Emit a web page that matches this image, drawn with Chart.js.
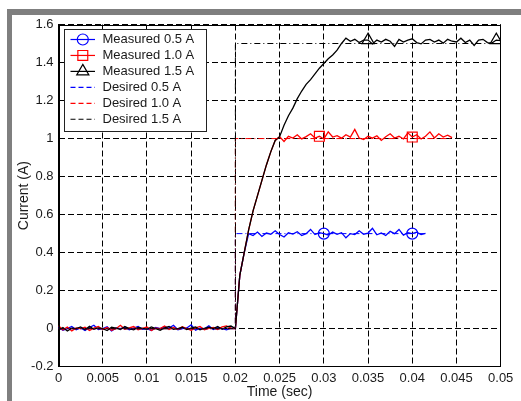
<!DOCTYPE html>
<html>
<head>
<meta charset="utf-8">
<script src="https://cdn.jsdelivr.net/npm/chart.js@4/dist/chart.umd.min.js"></script>
<style>
  html, body { margin: 0; padding: 0; background: #fff; }
  #frame {
    position: absolute; left: 7px; top: 9px; width: 514px; height: 392px;
    box-sizing: border-box; border-top: 6px solid #7f7f7f; border-left: 5px solid #7f7f7f;
  }
  #wrap { position: absolute; left: 0; top: 0; width: 521px; height: 401px; }
</style>
</head>
<body>
<div id="frame"></div>
<div id="wrap"><canvas id="chart" width="521" height="401"></canvas></div>
<script>
// sample times (sec)
const timeSec = [
  0, 0.0005, 0.001, 0.0015, 0.002, 0.0025, 0.003, 0.0035, 0.004, 0.0045,
  0.005, 0.0055, 0.006, 0.0065, 0.007, 0.0075, 0.008, 0.0085, 0.009, 0.0095,
  0.01, 0.0105, 0.011, 0.0115, 0.012, 0.0125, 0.013, 0.0135, 0.014, 0.0145,
  0.015, 0.0155, 0.016, 0.0165, 0.017, 0.0175, 0.018, 0.0185, 0.019, 0.0195,
  0.02, 0.0205, 0.021, 0.0215, 0.022, 0.0225, 0.023, 0.0235, 0.024, 0.0245,
  0.025, 0.0255, 0.026, 0.0265, 0.027, 0.0275, 0.028, 0.0285, 0.029, 0.0295,
  0.03, 0.0305, 0.031, 0.0315, 0.032, 0.0325, 0.033, 0.0335, 0.034, 0.0345,
  0.035, 0.0355, 0.036, 0.0365, 0.037, 0.0375, 0.038, 0.0385, 0.039, 0.0395,
  0.04, 0.0405, 0.041, 0.0415, 0.042, 0.0425, 0.043, 0.0435, 0.044, 0.0445,
  0.045, 0.0455, 0.046, 0.0465, 0.047, 0.0475, 0.048, 0.0485, 0.049, 0.0495,
  0.05
];

// measured currents (A)
const measured05 = [
  0.008, -0.008, 0.0, 0.012, -0.006, 0.004, -0.01, 0.006, 0.018, -0.004,
  0.0, 0.01, -0.012, 0.004, 0.0, 0.008, -0.006, 0.003, 0.012, -0.003,
  0.0, -0.01, 0.006, 0.0, 0.01, 0.003, 0.018, -0.006, 0.0, 0.004,
  0.02, -0.008, 0.003, 0.0, 0.015, -0.004, 0.006, 0.0, -0.006, 0.003,
  0.0, 0.28, 0.40, 0.50, 0.49, 0.508, 0.485, 0.503, 0.497, 0.515,
  0.495, 0.482, 0.505, 0.498, 0.51, 0.49, 0.50, 0.522, 0.495, 0.505,
  0.50, 0.493, 0.508, 0.496, 0.505, 0.478, 0.50, 0.495, 0.515, 0.497,
  0.503, 0.528, 0.494, 0.504, 0.49, 0.512, 0.50, 0.522, 0.492, 0.505,
  0.50, 0.508, 0.495, 0.501
];
const measured10 = [
  0.015, -0.006, 0.009, -0.012, 0.004, 0.0, 0.008, -0.01, 0.003, 0.012,
  -0.004, 0.006, -0.008, 0.0, 0.018, -0.003, 0.004, 0.011, -0.006, 0.002,
  0.009, -0.01, 0.003, 0.0, 0.014, -0.004, 0.006, -0.003, 0.01, 0.0,
  -0.008, 0.004, 0.012, -0.006, 0.002, 0.006, -0.004, 0.009, 0.015, 0.003,
  0.0, 0.28, 0.40, 0.52, 0.62, 0.70, 0.78, 0.86, 0.93, 0.99,
  1.01, 0.985, 1.012, 1.003, 1.02, 0.998, 1.01, 1.025, 1.003, 1.012,
  0.998, 1.035, 1.008, 1.015, 1.002, 1.02, 1.008, 1.048, 1.003, 0.995,
  1.012, 1.002, 1.015, 0.99, 1.01, 1.025, 1.003, 1.012, 0.998, 1.03,
  1.008, 1.02, 0.998, 1.012, 1.035, 1.003, 1.025, 1.008, 1.018, 1.005
];
const measured15 = [
  -0.008, 0.006, -0.012, 0.003, 0.0, 0.009, -0.006, 0.012, -0.003, 0.004,
  0.0, -0.01, 0.008, 0.003, -0.004, 0.011, 0.0, -0.006, 0.006, 0.002,
  -0.003, 0.009, 0.0, -0.008, 0.004, 0.012, -0.003, 0.0, 0.008, -0.004,
  0.003, 0.009, -0.006, 0.002, 0.008, 0.0, 0.012, -0.003, 0.009, 0.014,
  0.0, 0.28, 0.40, 0.52, 0.62, 0.70, 0.78, 0.86, 0.93, 0.99,
  1.01, 1.07, 1.12, 1.16, 1.21, 1.25, 1.285, 1.31, 1.34, 1.37,
  1.395, 1.42, 1.44, 1.465, 1.50, 1.528, 1.512, 1.522, 1.505, 1.518,
  1.518, 1.498, 1.518, 1.508, 1.522, 1.512, 1.485, 1.522, 1.508, 1.518,
  1.525, 1.505, 1.498, 1.518, 1.522, 1.508, 1.518, 1.502, 1.522, 1.512,
  1.508, 1.528, 1.505, 1.518, 1.49, 1.518, 1.522, 1.505, 1.502, 1.518,
  1.515
];

// times where the markers sit
const markers05 = [0.03, 0.04];
const markers10 = [0.0295, 0.04];
const markers15 = [0.035, 0.0495];

// desired (reference) step currents
const desiredT05 = [0, 0.02, 0.02, 0.0415];
const desiredI05 = [0, 0, 0.5, 0.5];
const desiredT10 = [0, 0.02, 0.02, 0.0445];
const desiredI10 = [0, 0, 1.0, 1.0];
const desiredT15 = [0, 0.02, 0.02, 0.05];
const desiredI15 = [0, 0, 1.5, 1.5];

const xTicks = [0, 0.005, 0.01, 0.015, 0.02, 0.025, 0.03, 0.035, 0.04, 0.045, 0.05];
const yTicks = [-0.2, 0, 0.2, 0.4, 0.6, 0.8, 1, 1.2, 1.4, 1.6];

const FONT = "'Liberation Sans', Arial, sans-serif";
const dashDot = [6, 3, 1, 3];

function pts(t, v) {
  return v.map((y, i) => ({ x: t[i], y: y }));
}

function markerRadius(list, r) {
  return ctx => (ctx.raw && list.includes(ctx.raw.x)) ? r : 0;
}

const datasets = [
  { label: 'Measured 0.5 A', data: pts(timeSec, measured05), borderColor: '#0000ff',
    pointStyle: 'circle', pointRadius: markerRadius(markers05, 5.5), markerR: 5.5, order: 6 },
  { label: 'Measured 1.0 A', data: pts(timeSec, measured10), borderColor: '#ff0000',
    pointStyle: 'rect', pointRadius: markerRadius(markers10, 7), markerR: 7, order: 5 },
  { label: 'Measured 1.5 A', data: pts(timeSec, measured15), borderColor: '#000000',
    pointStyle: 'triangle', pointRadius: markerRadius(markers15, 7), markerR: 7, order: 4 },
  { label: 'Desired 0.5 A', data: pts(desiredT05, desiredI05), borderColor: '#0000ff',
    borderDash: dashDot, pointRadius: 0, order: 3 },
  { label: 'Desired 1.0 A', data: pts(desiredT10, desiredI10), borderColor: '#ff0000',
    borderDash: dashDot, pointRadius: 0, order: 2 },
  { label: 'Desired 1.5 A', data: pts(desiredT15, desiredI15), borderColor: '#000000',
    borderDash: dashDot, pointRadius: 0, order: 1 }
];
datasets.forEach(d => {
  d.borderWidth = d.borderDash ? 1 : 1.3;
  d.fill = false;
  d.tension = 0;
  d.pointBorderColor = d.borderColor;
  d.pointBackgroundColor = 'rgba(0,0,0,0)';
  d.pointBorderWidth = 1.2;
  d.pointHoverRadius = 0;
});

function drawMarker(ctx, style, x, y, r) {
  ctx.beginPath();
  if (style === 'circle') {
    ctx.arc(x, y, r, 0, Math.PI * 2);
  } else if (style === 'rect') {
    const s = r * Math.SQRT1_2;
    ctx.rect(x - s, y - s, 2 * s, 2 * s);
  } else if (style === 'triangle') {
    ctx.moveTo(x, y - r);
    ctx.lineTo(x + r * Math.sin(Math.PI / 3), y + r / 2);
    ctx.lineTo(x - r * Math.sin(Math.PI / 3), y + r / 2);
    ctx.closePath();
  }
  ctx.stroke();
}

// axes box + legend drawn inside the plot, matlab style
const boxAndLegend = {
  id: 'boxAndLegend',
  afterDraw(chart) {
    const ctx = chart.ctx;
    const a = chart.chartArea;
    ctx.save();
    ctx.strokeStyle = '#000';
    ctx.lineWidth = 1;
    ctx.setLineDash([]);
    ctx.strokeRect(Math.round(a.left) + 0.5, Math.round(a.top) + 0.5,
      Math.round(a.right - a.left) - 1, Math.round(a.bottom - a.top) - 1);

    const bx = 64.5, by = 29.5, bw = 142, bh = 102;
    ctx.fillStyle = '#fff';
    ctx.fillRect(bx, by, bw, bh);
    ctx.strokeStyle = '#222';
    ctx.strokeRect(bx, by, bw, bh);

    ctx.font = '13px ' + FONT;
    ctx.textBaseline = 'middle';
    chart.data.datasets.forEach((d, k) => {
      const y = 39.5 + k * 15.95;
      ctx.strokeStyle = d.borderColor;
      ctx.lineWidth = 1.2;
      ctx.setLineDash(d.borderDash ? [5, 3] : []);
      ctx.beginPath();
      ctx.moveTo(70.5, y);
      ctx.lineTo(95, y);
      ctx.stroke();
      ctx.setLineDash([]);
      if (d.markerR) drawMarker(ctx, d.pointStyle, 82.8, y, d.markerR);
      ctx.fillStyle = '#1a1a1a';
      ctx.fillText(d.label, 102.5, y);
    });
    ctx.restore();
  }
};

new Chart(document.getElementById('chart'), {
  type: 'line',
  data: { datasets: datasets },
  options: {
    responsive: false,
    animation: false,
    layout: { padding: { left: 0, top: 24.5, right: 20.3, bottom: 0 } },
    plugins: { legend: { display: false }, tooltip: { enabled: false } },
    scales: {
      x: {
        type: 'linear', min: 0, max: 0.05,
        afterFit: s => { s.height = 34.3; },
        afterBuildTicks: s => { s.ticks = xTicks.map(v => ({ value: v })); },
        ticks: { padding: 4, color: '#1a1a1a', font: { family: FONT, size: 13 },
          maxRotation: 0, autoSkip: false, callback: v => String(+v.toFixed(3)) },
        grid: { color: '#000', lineWidth: 1, drawTicks: false },
        border: { display: true, color: '#000', dash: [6, 3] },
        title: { display: true, text: 'Time (sec)', color: '#1a1a1a',
          font: { family: FONT, size: 14 }, padding: { top: 0, bottom: 0 } }
      },
      y: {
        type: 'linear', min: -0.2, max: 1.6,
        afterFit: s => { s.width = 58.5; },
        afterBuildTicks: s => { s.ticks = yTicks.map(v => ({ value: v })); },
        ticks: { padding: 5, color: '#1a1a1a', font: { family: FONT, size: 13 },
          autoSkip: false, callback: v => String(+v.toFixed(1)) },
        grid: { color: '#000', lineWidth: 1, drawTicks: false },
        border: { display: true, color: '#000', dash: [6, 3] },
        title: { display: true, text: 'Current (A)', color: '#1a1a1a',
          font: { family: FONT, size: 14 }, padding: { top: 15.6, bottom: 0 } }
      }
    }
  },
  plugins: [boxAndLegend]
});
</script>
</body>
</html>
